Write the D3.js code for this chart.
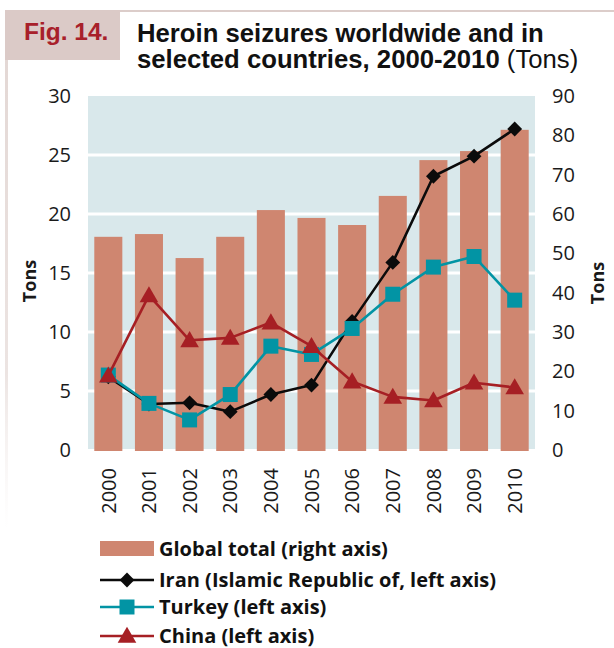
<!DOCTYPE html>
<html>
<head>
<meta charset="utf-8">
<script src="https://cdn.jsdelivr.net/npm/d3@7"></script>
<style>
  html, body { margin: 0; padding: 0; background: #fff; }
  svg { display: block; }
</style>
</head>
<body>
<svg id="chart" width="614" height="648"></svg>
<script>
// ---- data ----
const years = ["2000","2001","2002","2003","2004","2005","2006","2007","2008","2009","2010"];
const globalTotal = [54.2, 54.9, 48.8, 54.2, 61.0, 59.0, 57.2, 64.6, 73.7, 76.0, 81.4];
const iran   = [6.2, 3.9, 4.0, 3.25, 4.7, 5.5, 10.9, 15.9, 23.2, 24.9, 27.2];
const turkey = [6.35, 3.95, 2.55, 4.7, 8.8, 8.1, 10.3, 13.2, 15.5, 16.4, 12.7];
const china  = [6.3, 13.1, 9.3, 9.5, 10.8, 8.8, 5.8, 4.5, 4.2, 5.7, 5.3];
const leftTicks  = [0, 5, 10, 15, 20, 25, 30];
const rightTicks = [0, 10, 20, 30, 40, 50, 60, 70, 80, 90];
const gridTicks  = [5, 10, 15, 20, 25];
const legendLabels = [
  "Global total (right axis)",
  "Iran (Islamic Republic of, left axis)",
  "Turkey (left axis)",
  "China (left axis)"
];

// ---- styles ----
const C = {
  bar: "#cf8670",
  bg: "#d9e8eb",
  iran: "#0b0b0b",
  turkey: "#0294a4",
  china: "#a61f24",
  frame: "#dccdca",
  fig: "#a8202a",
  text: "#1a1a1a"
};
const tickFont = "'Open Sans', sans-serif";
const titleFont = "'Liberation Sans', Arial, sans-serif";

const svg = d3.select("#chart");

// frame
const frameGrad = svg.append("defs").append("linearGradient")
  .attr("id", "fade").attr("x1", 0).attr("x2", 0).attr("y1", 0).attr("y2", 1);
frameGrad.append("stop").attr("offset", "0%").attr("stop-color", "#e2d6d3").attr("stop-opacity", 1);
frameGrad.append("stop").attr("offset", "70%").attr("stop-color", "#ece4e2").attr("stop-opacity", 1);
frameGrad.append("stop").attr("offset", "100%").attr("stop-color", "#f4efee").attr("stop-opacity", 0);
svg.append("rect").attr("x", 5).attr("y", 10).attr("width", 3).attr("height", 520).attr("fill", "url(#fade)");
svg.append("rect").attr("x", 5).attr("y", 10).attr("width", 609).attr("height", 2).attr("fill", C.frame);
svg.append("rect").attr("x", 5).attr("y", 10).attr("width", 115).attr("height", 50).attr("fill", "#dbcac7");

// title
svg.append("text").attr("x", 24).attr("y", 40)
  .attr("font-family", titleFont).attr("font-weight", "bold")
  .attr("font-size", 24.5).attr("fill", C.fig).text("Fig. 14.");
svg.append("text").attr("x", 137).attr("y", 42)
  .attr("font-family", titleFont).attr("font-weight", "bold")
  .attr("font-size", 25.7).attr("fill", "#111").text("Heroin seizures worldwide and in");
const t2 = svg.append("text").attr("x", 137).attr("y", 68)
  .attr("font-family", titleFont).attr("font-size", 25.7).attr("fill", "#111");
t2.append("tspan").attr("font-weight", "bold").text("selected countries, 2000-2010");
t2.append("tspan").text(" (Tons)");

// ---- scales ----
const x = d3.scaleBand().domain(years).range([88, 535]).paddingInner(0.31).paddingOuter(0.155);
const yL = d3.scaleLinear().domain([0, 30]).range([450, 96]);
const yR = d3.scaleLinear().domain([0, 90]).range([450, 96]);

// plot background
svg.append("rect").attr("x", 88).attr("y", yL(30)).attr("width", 535 - 88).attr("height", yL(0) - yL(30) - 1).attr("fill", C.bg);
svg.append("g").selectAll("line").data(gridTicks).join("line")
  .attr("x1", 88).attr("x2", 535)
  .attr("y1", d => yL(d)).attr("y2", d => yL(d))
  .attr("stroke", "#fff").attr("stroke-width", 3);

// bars
svg.append("g").selectAll("rect").data(globalTotal).join("rect")
  .attr("x", (d, i) => x(years[i]))
  .attr("width", x.bandwidth())
  .attr("y", d => yR(d))
  .attr("height", d => yR(0) - yR(d) + 1)
  .attr("fill", C.bar);

// axes
const axL = d3.axisLeft(yL).tickValues(leftTicks).tickSize(0).tickPadding(0);
const gL = svg.append("g").attr("transform", "translate(71,0)").call(axL);
const axR = d3.axisRight(yR).tickValues(rightTicks).tickSize(0).tickPadding(0);
const gR = svg.append("g").attr("transform", "translate(552,0)").call(axR);
const axB = d3.axisBottom(x).tickSize(0).tickPadding(0);
const gB = svg.append("g").attr("transform", "translate(0,468)").call(axB);
[gL, gR, gB].forEach(g => {
  g.select(".domain").remove();
  g.selectAll("text").attr("font-family", tickFont).attr("font-size", 20).attr("fill", C.text);
});
gB.selectAll("text")
  .attr("transform", "rotate(-90)")
  .attr("text-anchor", "end")
  .attr("dy", "0.36em")
  .attr("x", 0).attr("y", 0);
gB.selectAll(".tick").each(function(d) {
  d3.select(this).attr("transform", `translate(${x(d) + x.bandwidth() / 2},0)`);
});

// axis titles
svg.append("text").attr("transform", "translate(36,281) rotate(-90)")
  .attr("text-anchor", "middle").attr("font-family", tickFont).attr("font-weight", "bold")
  .attr("font-size", 18).attr("fill", C.text).text("Tons");
svg.append("text").attr("transform", "translate(604,283) rotate(-90)")
  .attr("text-anchor", "middle").attr("font-family", tickFont).attr("font-weight", "bold")
  .attr("font-size", 18).attr("fill", C.text).text("Tons");

// markers
const sym = {
  iran: d3.symbol().type(d3.symbolSquare).size(110),
  turkey: d3.symbol().type(d3.symbolSquare).size(225),
  china: d3.symbol().type(d3.symbolTriangle).size(150)
};
function drawSeries(vals, color, kind) {
  const cx = (d, i) => x(years[i]) + x.bandwidth() / 2;
  const line = d3.line().x(cx).y(d => yL(d));
  svg.append("path").datum(vals).attr("d", line)
    .attr("fill", "none").attr("stroke", color).attr("stroke-width", 2.6).attr("stroke-linejoin", "round");
  svg.append("g").selectAll("path").data(vals).join("path")
    .attr("d", sym[kind]())
    .attr("transform", (d, i) => `translate(${cx(d, i)},${yL(d) + (kind === "china" ? 1.5 : 0)})` + (kind === "iran" ? " rotate(45)" : ""))
    .attr("fill", color);
}
drawSeries(iran, C.iran, "iran");
drawSeries(turkey, C.turkey, "turkey");
drawSeries(china, C.china, "china");

// legend
const legY = [549, 580, 607, 636];
const leg = svg.append("g");
leg.append("rect").attr("x", 100).attr("y", 541).attr("width", 54).attr("height", 15).attr("fill", C.bar);
const legendKinds = [null, ["iran", C.iran], ["turkey", C.turkey], ["china", C.china]];
legendKinds.forEach((k, i) => {
  if (!k) return;
  leg.append("line").attr("x1", 100).attr("x2", 154).attr("y1", legY[i]).attr("y2", legY[i])
    .attr("stroke", k[1]).attr("stroke-width", 2.6);
  leg.append("path").attr("d", sym[k[0]]())
    .attr("transform", `translate(127,${legY[i] + (k[0] === "china" ? 1.5 : 0)})` + (k[0] === "iran" ? " rotate(45)" : ""))
    .attr("fill", k[1]);
});
leg.selectAll("text.lab").data(legendLabels).join("text")
  .attr("class", "lab")
  .attr("x", 159).attr("y", (d, i) => legY[i])
  .attr("dy", "0.36em")
  .attr("font-family", tickFont).attr("font-weight", "bold").attr("font-size", 20)
  .attr("fill", "#111").text(d => d);
</script>
</body>
</html>
